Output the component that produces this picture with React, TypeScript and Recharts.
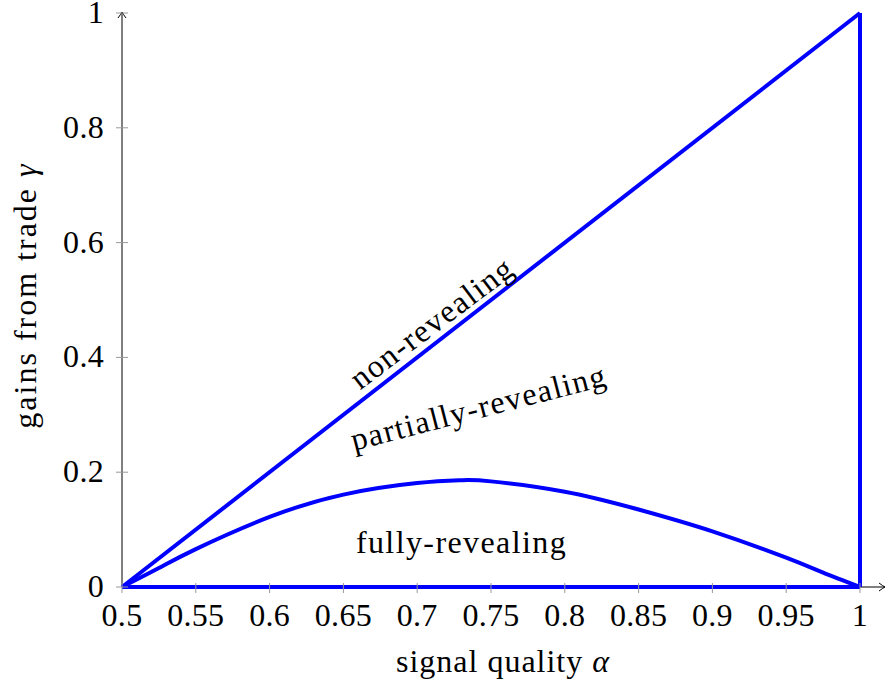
import React from 'react';
import { LineChart, Line, XAxis, YAxis, ReferenceLine, ReferenceDot } from 'recharts';

// ---- data ----
const diagonalLine = [
  { a: 0.5, g: 0 },
  { a: 1, g: 1 },
];
const verticalLine = [
  { a: 1, g: 0 },
  { a: 1, g: 1 },
];
const bottomLine = [
  { a: 0.5, g: 0 },
  { a: 1, g: 0 },
];
const curveAlpha = [0.5, 0.525, 0.55, 0.6, 0.65, 0.7, 0.73, 0.75, 0.8, 0.85, 0.9, 0.95, 0.975, 1];
const curveGamma = [0, 0.033, 0.066, 0.122, 0.161, 0.181, 0.186, 0.184, 0.166, 0.135, 0.097, 0.051, 0.025, 0];
const curveLine = curveAlpha.map((a, i) => ({ a, g: curveGamma[i] }));

const xTicks = [0.5, 0.55, 0.6, 0.65, 0.7, 0.75, 0.8, 0.85, 0.9, 0.95, 1];
const yTicks = [0, 0.2, 0.4, 0.6, 0.8, 1];

const regionLabels = [
  { text: 'non-revealing', a: 0.7097, g: 0.4608, angle: -37 },
  { text: 'partially-revealing', a: 0.7415, g: 0.3136, angle: -14.5 },
  { text: 'fully-revealing', a: 0.73, g: 0.0784, angle: 0 },
];

const xTitle = 'signal quality ';
const xTitleSymbol = 'α';
const yTitle = 'gains from trade ';
const yTitleSymbol = 'γ';

// ---- styles ----
const FONT = "'Liberation Serif', serif";
const FS = 32;
const LS = 1.4;
const BLUE = '#0000ff';
const LW = 4;

const XTick = (props: any) => {
  const { x, y, payload } = props;
  return (
    <g>
      <line x1={x} x2={x} y1={y - 4} y2={y + 6} stroke="#999" strokeWidth={1} />
      <text x={x} y={y + 39} textAnchor="middle" fontFamily={FONT} fontSize={FS} fill="#000" letterSpacing={0.3}>
        {String(payload.value)}
      </text>
    </g>
  );
};

const YTick = (props: any) => {
  const { x, y, payload } = props;
  return (
    <g>
      <line x1={x - 6} x2={x + 6} y1={y} y2={y} stroke="#999" strokeWidth={1} />
      <text x={x - 18} y={y + 10} textAnchor="end" fontFamily={FONT} fontSize={FS} fill="#000" letterSpacing={0.3}>
        {String(payload.value)}
      </text>
    </g>
  );
};

const XArrowAxis = (props: any) => {
  const { x1, x2, y1 } = props;
  const left = Math.min(x1, x2);
  const tip = Math.max(x1, x2) + 25;
  return (
    <g>
      <line x1={left} x2={tip} y1={y1} y2={y1} stroke="#000" strokeWidth={1} />
      <path d={`M ${tip - 6} ${y1 - 4} Q ${tip - 2} ${y1 - 1} ${tip} ${y1} Q ${tip - 2} ${y1 + 1} ${tip - 6} ${y1 + 4}`} fill="none" stroke="#000" strokeWidth={1} />
    </g>
  );
};

const YArrowAxis = (props: any) => {
  const { x1, y1, y2 } = props;
  const bottom = Math.max(y1, y2);
  const tip = Math.min(y1, y2) - 1;
  return (
    <g>
      <line x1={x1} x2={x1} y1={bottom} y2={tip} stroke="#000" strokeWidth={1} />
      <path d={`M ${x1 - 4} ${tip + 6} Q ${x1 - 1} ${tip + 2} ${x1} ${tip} Q ${x1 + 1} ${tip + 2} ${x1 + 4} ${tip + 6}`} fill="none" stroke="#000" strokeWidth={1} />
    </g>
  );
};

const makeRegionLabel = (text: string, angle: number) => (props: any) => {
  const { cx, cy } = props;
  return (
    <text
      x={cx}
      y={cy}
      dy="0.35em"
      textAnchor="middle"
      fontFamily={FONT}
      fontSize={FS}
      letterSpacing={LS}
      fill="#000"
      transform={`rotate(${angle}, ${cx}, ${cy})`}
    >
      {text}
    </text>
  );
};

const XTitle = (props: any) => {
  const vb = props.viewBox;
  return (
    <text x={vb.x + vb.width / 2 + 12} y={vb.y + 85} textAnchor="middle" fontFamily={FONT} fontSize={FS} letterSpacing={1} fill="#000">
      {xTitle}
      <tspan fontStyle="italic">{xTitleSymbol}</tspan>
    </text>
  );
};

const YTitle = (props: any) => {
  const vb = props.viewBox;
  const cx = 36;
  const cy = vb.y + vb.height / 2 - 4.5;
  return (
    <text x={cx} y={cy} textAnchor="middle" fontFamily={FONT} fontSize={FS} letterSpacing={2} fill="#000" transform={`rotate(-90, ${cx}, ${cy})`}>
      {yTitle}
      <tspan fontStyle="italic">{yTitleSymbol}</tspan>
    </text>
  );
};

export default function App() {
  return (
    <div style={{ position: 'absolute', left: 0, top: 0, width: 886, height: 688, background: '#fff' }}>
      <LineChart width={886} height={688} margin={{ top: 13, right: 26, bottom: 0, left: 0 }}>
        <XAxis
          dataKey="a"
          type="number"
          domain={[0.5, 1]}
          ticks={xTicks}
          interval={0}
          height={101}
          axisLine={false}
          tickLine={false}
          tickSize={0}
          tickMargin={0}
          tick={<XTick />}
          label={XTitle}
        />
        <YAxis
          dataKey="g"
          type="number"
          domain={[0, 1]}
          ticks={yTicks}
          interval={0}
          width={122}
          axisLine={false}
          tickLine={false}
          tickSize={0}
          tickMargin={0}
          tick={<YTick />}
          label={YTitle}
        />
        <ReferenceLine y={0} shape={XArrowAxis} />
        <ReferenceLine x={0.5} shape={YArrowAxis} />
        <Line data={bottomLine} dataKey="g" type="linear" stroke={BLUE} strokeWidth={LW} dot={false} isAnimationActive={false} />
        <Line data={diagonalLine} dataKey="g" type="linear" stroke={BLUE} strokeWidth={LW} dot={false} isAnimationActive={false} />
        <Line data={verticalLine} dataKey="g" type="linear" stroke={BLUE} strokeWidth={LW} dot={false} isAnimationActive={false} />
        <Line data={curveLine} dataKey="g" type="natural" stroke={BLUE} strokeWidth={LW} dot={false} isAnimationActive={false} />
        {regionLabels.map((l) => (
          <ReferenceDot key={l.text} x={l.a} y={l.g} r={0} shape={makeRegionLabel(l.text, l.angle)} />
        ))}
      </LineChart>
    </div>
  );
}
